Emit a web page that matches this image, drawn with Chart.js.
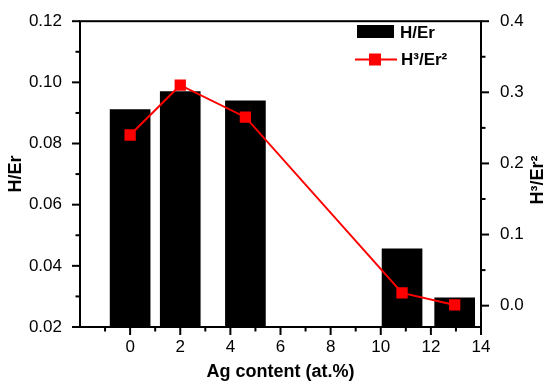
<!DOCTYPE html>
<html>
<head>
<meta charset="utf-8">
<script src="https://cdn.jsdelivr.net/npm/chart.js@4"></script>
<style>
  body { margin: 0; background: #fff; }
  #wrap { width: 550px; height: 386px; }
</style>
</head>
<body>
<div id="wrap"><canvas id="chart"></canvas></div>
<script>
const agContent = [0, 2, 4.6, 10.85, 12.95];
const hEr = [0.0911, 0.097, 0.094, 0.0456, 0.0295];
const h3Er2 = [0.240, 0.310, 0.265, 0.018, 0.001];
const xTicks = [0, 2, 4, 6, 8, 10, 12, 14];
const leftTicks = [0.02, 0.04, 0.06, 0.08, 0.10, 0.12];
const rightTicks = [0.0, 0.1, 0.2, 0.3, 0.4];

const FONT = "'Liberation Sans', Arial, sans-serif";
Chart.defaults.font.family = FONT;
Chart.defaults.font.size = 17;
Chart.defaults.color = "#000";

// frame, major/minor ticks, custom legend and the right-hand title
const decorations = {
  id: "decorations",
  afterDraw(chart) {
    const { ctx, chartArea: a, scales } = chart;
    ctx.save();
    ctx.strokeStyle = "#000";
    ctx.lineWidth = 2;
    ctx.strokeRect(a.left, a.top, a.right - a.left, a.bottom - a.top);

    const tick = (scale, value, len) => {
      const p = scale.getPixelForValue(value);
      ctx.beginPath();
      if (scale.axis === "x") {
        ctx.moveTo(p, a.bottom);
        ctx.lineTo(p, a.bottom + len);
      } else if (scale.position === "left") {
        ctx.moveTo(a.left, p);
        ctx.lineTo(a.left - len, p);
      } else {
        ctx.moveTo(a.right, p);
        ctx.lineTo(a.right + len, p);
      }
      ctx.stroke();
    };

    ["x", "y", "y2"].forEach((id) => {
      const s = scales[id];
      const vals = s.ticks.map((t) => t.value);
      const step = vals[1] - vals[0];
      vals.forEach((v) => {
        tick(s, v, 8);
        const m = v - step / 2;
        if (m >= s.min - 1e-9) tick(s, m, 4.5);
      });
      const last = vals[vals.length - 1] + step / 2;
      if (last <= s.max + 1e-9) tick(s, last, 4.5);
    });

    // legend
    ctx.fillStyle = "#000";
    ctx.fillRect(357, 25, 37, 13);
    ctx.font = "bold 17px " + FONT;
    ctx.textAlign = "left";
    ctx.textBaseline = "alphabetic";
    ctx.fillText("H/Er", 400, 38);

    ctx.strokeStyle = "#ff0000";
    ctx.beginPath();
    ctx.moveTo(355, 59.5);
    ctx.lineTo(397, 59.5);
    ctx.stroke();
    ctx.fillStyle = "#ff0000";
    ctx.fillRect(369, 53.5, 12, 12);
    ctx.fillStyle = "#000";
    ctx.fillText("H³/Er²", 401, 65);

    // right axis title, reading bottom to top
    ctx.font = "bold 18px " + FONT;
    ctx.translate(543, 180);
    ctx.rotate(-Math.PI / 2);
    ctx.textAlign = "center";
    ctx.fillText("H³/Er²", 0, 0);
    ctx.restore();
  },
};

new Chart(document.getElementById("chart"), {
  type: "bar",
  data: {
    datasets: [
      {
        type: "bar",
        label: "H/Er",
        data: agContent.map((x, i) => ({ x, y: hEr[i] })),
        backgroundColor: "#000",
        barThickness: 40,
        yAxisID: "y",
        order: 2,
      },
      {
        type: "line",
        label: "H³/Er²",
        data: agContent.map((x, i) => ({ x, y: h3Er2[i] })),
        borderColor: "#ff0000",
        backgroundColor: "#ff0000",
        borderWidth: 2,
        pointStyle: "rect",
        pointRadius: 8,
        pointBorderWidth: 0,
        tension: 0,
        yAxisID: "y2",
        order: 1,
      },
    ],
  },
  options: {
    responsive: true,
    maintainAspectRatio: false,
    animation: false,
    layout: { padding: { top: 13, left: 0, right: 0, bottom: 0 } },
    plugins: { legend: { display: false }, tooltip: { enabled: false } },
    scales: {
      x: {
        type: "linear",
        min: -2,
        max: 14,
        offset: false,
        afterBuildTicks: (s) => { s.ticks = xTicks.map((v) => ({ value: v })); },
        afterFit: (s) => { s.height = 59; },
        grid: { display: false },
        border: { display: false },
        ticks: { padding: 2, callback: (v) => v },
        title: {
          display: true,
          text: "Ag content (at.%)",
          font: { weight: "bold", size: 18 },
          padding: { top: 0, bottom: 3 },
        },
      },
      y: {
        position: "left",
        min: 0.02,
        max: 0.12,
        afterBuildTicks: (s) => { s.ticks = leftTicks.map((v) => ({ value: v })); },
        afterFit: (s) => { s.width = 80; },
        grid: { display: false },
        border: { display: false },
        ticks: { padding: 10, callback: (v) => v.toFixed(2) },
        title: {
          display: true,
          text: "H/Er",
          font: { weight: "bold", size: 18 },
          padding: { top: 5, bottom: 0 },
        },
      },
      y2: {
        position: "right",
        min: -0.03,
        max: 0.4,
        afterBuildTicks: (s) => { s.ticks = rightTicks.map((v) => ({ value: v })); },
        afterFit: (s) => { s.width = 69; },
        grid: { display: false },
        border: { display: false },
        ticks: { padding: 11, callback: (v) => v.toFixed(1) },
      },
    },
  },
  plugins: [decorations],
});
</script>
</body>
</html>
